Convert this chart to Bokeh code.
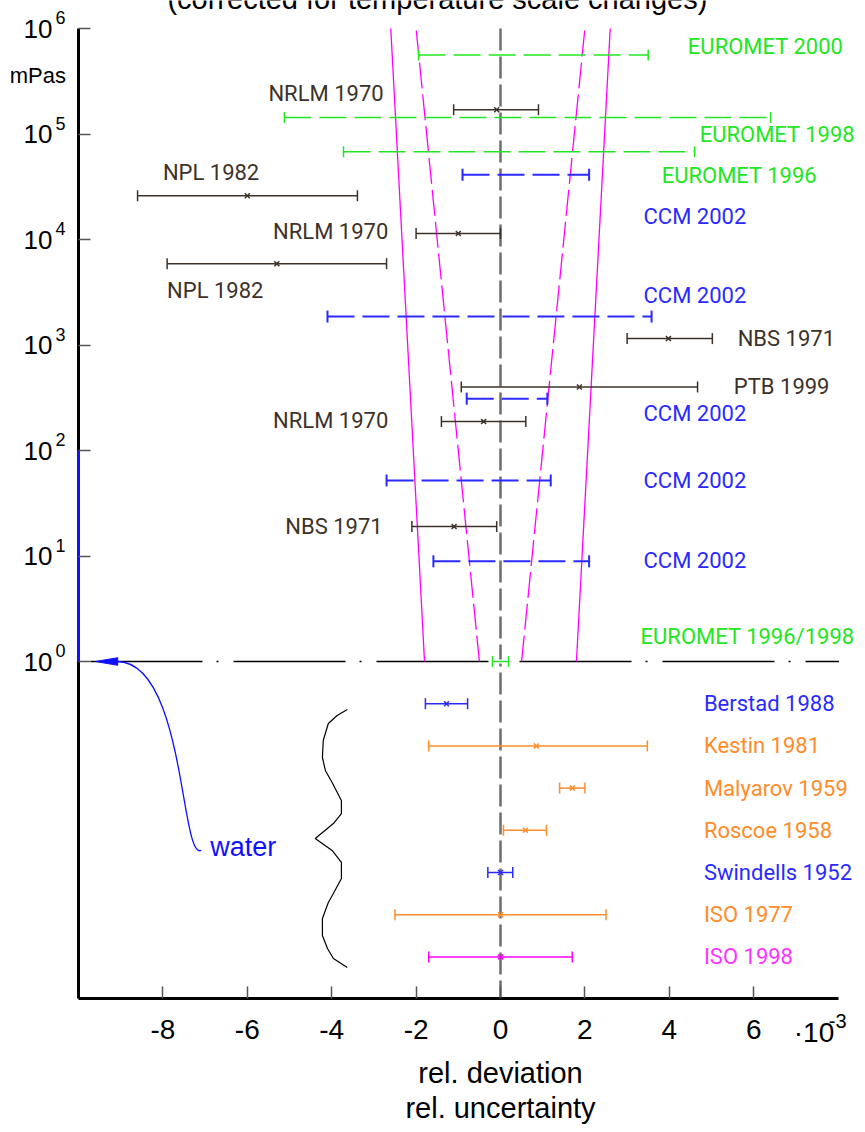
import math
from bokeh.plotting import figure
from bokeh.models import ColumnDataSource, FixedTicker, Label, LabelSet
from bokeh.embed import file_html
from bokeh.resources import INLINE
from bokeh.core.properties import value

# ---------------- data ----------------
# single-laboratory results (viscosity in mPas, rel. deviation / uncertainty in 1e-3)
lab_visc = [1.7e5, 2.6e4, 1.14e4, 5.9e3, 1.15e3, 400, 188, 19]
lab_dev = [-0.09, -6.0, -1.0, -5.3, 3.98, 1.87, -0.4, -1.1]
lab_low = [-1.11, -8.6, -2.0, -7.9, 3.0, -0.93, -1.4, -2.1]
lab_high = [0.9, -3.39, 0.0, -2.7, 5.02, 4.67, 0.6, -0.09]

# CCM 2002 comparison (uncertainty bands)
ccm_visc = [4.1e4, 1.86e3, 310, 52, 8.9]
ccm_low = [-0.9, -4.1, -0.8, -2.7, -1.59]
ccm_high = [2.1, 3.58, 1.11, 1.19, 2.1]

# EUROMET comparisons
eu_visc = [5.6e5, 1.43e5, 6.8e4]
eu_low = [-1.94, -5.12, -3.72]
eu_high = [3.5, 6.4, 4.6]
eu_water_visc = [1.0]
eu_water_low = [-0.19]
eu_water_high = [0.19]

# limits of the uncertainty funnel (at 1 mPas and 1e6 mPas)
funnel_visc = [1.0, 1.0e6]
funnel_solid = [1.8, 2.6]
funnel_dashed = [0.5, 2.0]

# water reference values
water_names = ["Berstad 1988", "Kestin 1981", "Malyarov 1959", "Roscoe 1958",
               "Swindells 1952", "ISO 1977", "ISO 1998"]
water_dev = [-1.28, 0.85, 1.7, 0.59, 0.0, 0.0, 0.0]
water_low = [-1.78, -1.7, 1.4, 0.07, -0.3, -2.5, -1.7]
water_high = [-0.78, 3.48, 2.0, 1.09, 0.29, 2.5, 1.7]
water_kind = ["blue", "orange", "orange", "orange", "blue", "orange", "magenta"]

# text labels of the upper part
label_text = ["EUROMET 2000", "NRLM 1970", "EUROMET 1998", "NPL 1982", "EUROMET 1996",
              "CCM 2002", "NRLM 1970", "NPL 1982", "CCM 2002", "NBS 1971", "PTB 1999",
              "CCM 2002", "NRLM 1970", "CCM 2002", "NBS 1971", "CCM 2002", "EUROMET 1996/1998"]
label_x = [4.44, -5.50, 4.72, -8.0, 3.82, 3.39, -5.39, -7.90, 3.39, 5.62, 5.53,
           3.39, -5.39, 3.39, -5.10, 3.39, 3.32]
label_visc = [6.8e5, 2.4e5, 1.0e5, 4.3e4, 4.05e4, 1.65e4, 1.19e4, 3.3e3, 2.94e3, 1.15e3, 405,
              224, 192, 52, 19, 9.06, 1.73]
label_kind = ["green", "brown", "green", "brown", "green", "blue", "brown", "brown", "blue",
              "brown", "brown", "blue", "brown", "blue", "brown", "blue", "green"]

x_ticks = [-8, -6, -4, -2, 0, 2, 4, 6]
y_exponents = [0, 1, 2, 3, 4, 5, 6]

# decorative brace (x in 1e-3, log10 of y)
brace_x = [-3.63, -3.87, -4.08, -4.20, -4.22, -4.15, -3.99, -3.77, -3.77, -3.96, -4.39,
           -3.99, -3.77, -3.77, -3.96, -4.08, -4.22, -4.22, -4.10, -3.96, -3.63]
brace_logy = [-0.455, -0.512, -0.588, -0.749, -0.910, -1.033, -1.147, -1.318, -1.441, -1.536,
              -1.678, -1.791, -1.905, -2.057, -2.199, -2.284, -2.436, -2.597, -2.720, -2.815, -2.900]

# ---------------- styles / geometry ----------------
BROWN = "#3d3229"
GREEN = "#22e622"
BLUE = "#2a2aff"
ORANGE = "#ff8c2a"
MAGENTA = "#ff00ff"
WBLUE = "#1010ff"
colors = {"brown": BROWN, "green": GREEN, "blue": BLUE, "orange": ORANGE, "magenta": "#ff33ff"}
LFONT = "Roboto"
AFONT = "Liberation Sans"

W, H = 857, 1124
PX = 42.2      # pixels per 1e-3
X0PX = 500.0   # pixel of zero deviation
DEC = 105.5    # pixels per decade
Y0PX = 661.0   # pixel of 1 mPas
x_start = -X0PX / PX
x_end = (W - X0PX) / PX
y_top = 10 ** (Y0PX / DEC)
y_bot = 10 ** ((Y0PX - H) / DEC)
ax_left = -10.0
ax_right = 8.02
ax_bottom = 10 ** -3.194
ax_top = 1.0e6

p = figure(width=W, height=H, x_range=(x_start, x_end), y_range=(y_bot, y_top),
           y_axis_type="log", output_backend="svg", toolbar_location=None,
           min_border=0, title=None)
p.min_border_left = 0
p.min_border_right = 0
p.min_border_top = 0
p.min_border_bottom = 0
p.outline_line_color = None
p.grid.visible = False

# axes at fixed positions inside the (full-canvas) frame
p.xaxis.fixed_location = ax_bottom
p.yaxis.fixed_location = ax_left
p.xaxis.bounds = (ax_left, ax_right)
p.yaxis.bounds = (ax_bottom, ax_top)
p.xaxis.ticker = FixedTicker(ticks=x_ticks)
p.xaxis.major_label_overrides = {t: str(t) for t in x_ticks}
p.yaxis.ticker = FixedTicker(ticks=[10.0 ** e for e in y_exponents])
p.yaxis.major_label_overrides = {10.0 ** e: "10" for e in y_exponents}
for ax in (p.xaxis, p.yaxis):
    ax.major_tick_in = 12
    ax.major_tick_out = 0
    ax.minor_tick_line_color = None
    ax.major_tick_line_color = "#555555"
    ax.major_tick_line_width = 1.5
    ax.major_label_text_font = AFONT
    ax.major_label_text_color = "black"
p.xaxis.major_label_text_font_size = "28px"
p.yaxis.major_label_text_font_size = "26px"
p.xaxis.axis_line_width = 3
p.xaxis.axis_line_color = "black"
p.xaxis.major_label_standoff = 22
p.yaxis.axis_line_color = None
p.yaxis.major_label_standoff = 26

# left axis line: black, blue between 1 and 100 mPas
p.segment(x0=[ax_left], y0=[ax_bottom], x1=[ax_left], y1=[ax_top], line_color="black",
          line_width=3)
p.segment(x0=[ax_left], y0=[1.0], x1=[ax_left], y1=[100.0], line_color=WBLUE, line_width=3)

# exponent superscripts of y tick labels (raised 11 px above the tick)
exp_src = ColumnDataSource(dict(x=[-10.545] * len(y_exponents),
                                y=[10.0 ** (e + 11 / DEC) for e in y_exponents],
                                t=[str(e) for e in y_exponents]))
p.add_layout(LabelSet(x="x", y="y", text="t", source=exp_src,
                      text_font=value(AFONT), text_font_size="18px",
                      text_baseline="middle", text_align="left", text_color="black"))

# reference lines
p.segment(x0=[0], y0=[ax_top], x1=[0], y1=[ax_bottom], line_color="#6e6e6e", line_width=2.5,
          line_dash="22 6")
p.segment(x0=[ax_left], y0=[1.0], x1=[ax_right], y1=[1.0], line_color="black", line_width=1.5,
          line_dash="112 14 2 15", line_dash_offset=131)

# funnel lines
p.segment(x0=[-funnel_solid[0], funnel_solid[0]], y0=[funnel_visc[0]] * 2,
          x1=[-funnel_solid[1], funnel_solid[1]], y1=[funnel_visc[1]] * 2,
          line_color=MAGENTA, line_width=1.3)
p.segment(x0=[-funnel_dashed[0], funnel_dashed[0]], y0=[funnel_visc[0]] * 2,
          x1=[-funnel_dashed[1], funnel_dashed[1]], y1=[funnel_visc[1]] * 2,
          line_color=MAGENTA, line_width=1.3, line_dash="26 6")


def bars(low, high, y, color, width, dash="solid", cap=11):
    p.segment(x0=low, y0=y, x1=high, y1=y, line_color=color, line_width=width, line_dash=dash)
    p.scatter(x=low + high, y=y + y, marker="dash", angle=math.pi / 2, size=cap,
              line_color=color, line_width=width)


bars(eu_low, eu_high, eu_visc, GREEN, 1.5, "27 8")
bars(ccm_low, ccm_high, ccm_visc, BLUE, 2, "27 8", cap=12)
bars(lab_low, lab_high, lab_visc, BROWN, 1.5)
p.scatter(x=lab_dev, y=lab_visc, marker="x", size=7, line_color=BROWN, line_width=1.5)
p.segment(x0=[v - 0.08 for v in eu_water_low], y0=eu_water_visc,
          x1=[v + 0.08 for v in eu_water_high], y1=eu_water_visc, line_color="white", line_width=4)
bars(eu_water_low, eu_water_high, eu_water_visc, GREEN, 1.5)

# water rows
water_y = [10 ** (-0.4 * (i + 1)) for i in range(len(water_names))]
for kind in ("blue", "orange", "magenta"):
    idx = [i for i, k in enumerate(water_kind) if k == kind]
    lo = [water_low[i] for i in idx]
    hi = [water_high[i] for i in idx]
    yy = [water_y[i] for i in idx]
    dv = [water_dev[i] for i in idx]
    c = {"blue": BLUE, "orange": ORANGE, "magenta": MAGENTA}[kind]
    bars(lo, hi, yy, c, 1.5)
    p.scatter(x=dv, y=yy, marker="x", size=7, line_color=c, line_width=1.5)

# brace
p.line(x=brace_x, y=[10 ** v for v in brace_logy], line_color="black", line_width=1.2)

# water arrow
p.bezier(x0=[-9.09], y0=[1.0], x1=[-7.09], y1=[10 ** -1.79],
         cx0=[-7.47], cy0=[1.0], cx1=[-7.59], cy1=[10 ** -1.886],
         line_color=WBLUE, line_width=1.3)
p.patch(x=[-9.6, -9.07, -9.07], y=[1.0, 10 ** 0.036, 10 ** -0.036], fill_color=WBLUE,
        line_color=WBLUE)

# labels in plot
lab_src = ColumnDataSource(dict(x=label_x, y=label_visc, t=label_text,
                                c=[colors[k] for k in label_kind]))
p.add_layout(LabelSet(x="x", y="y", text="t", source=lab_src, text_color="c",
                      text_font=value(LFONT), text_font_size="22px",
                      text_baseline="middle", text_align="left"))
wat_src = ColumnDataSource(dict(x=[4.82] * len(water_names), y=water_y, t=water_names,
                                c=[colors[k] for k in water_kind]))
p.add_layout(LabelSet(x="x", y="y", text="t", source=wat_src, text_color="c",
                      text_font=value(LFONT), text_font_size="22px",
                      text_baseline="middle", text_align="left"))


def dlabel(x, logy, text, size, align="left", color="black"):
    p.add_layout(Label(x=x, y=10 ** logy, text=text, text_font=AFONT, text_font_size=size,
                       text_align=align, text_baseline="middle", text_color=color))


dlabel(-6.88, -1.754, "water", "27px", color=WBLUE)
dlabel(6.95, -3.517, "\u00b710", "28px")
dlabel(7.78, -3.412, "-3", "20px")
dlabel(0.0, -3.905, "rel. deviation", "29px", "center")
dlabel(0.0, -4.23, "rel. uncertainty", "29px", "center")
dlabel(-11.63, 5.555, "mPas", "22px")
dlabel(-1.495, 6.28, "(corrected for temperature scale changes)", "29px", "center")

open("out.html", "w").write(file_html(p, INLINE))
